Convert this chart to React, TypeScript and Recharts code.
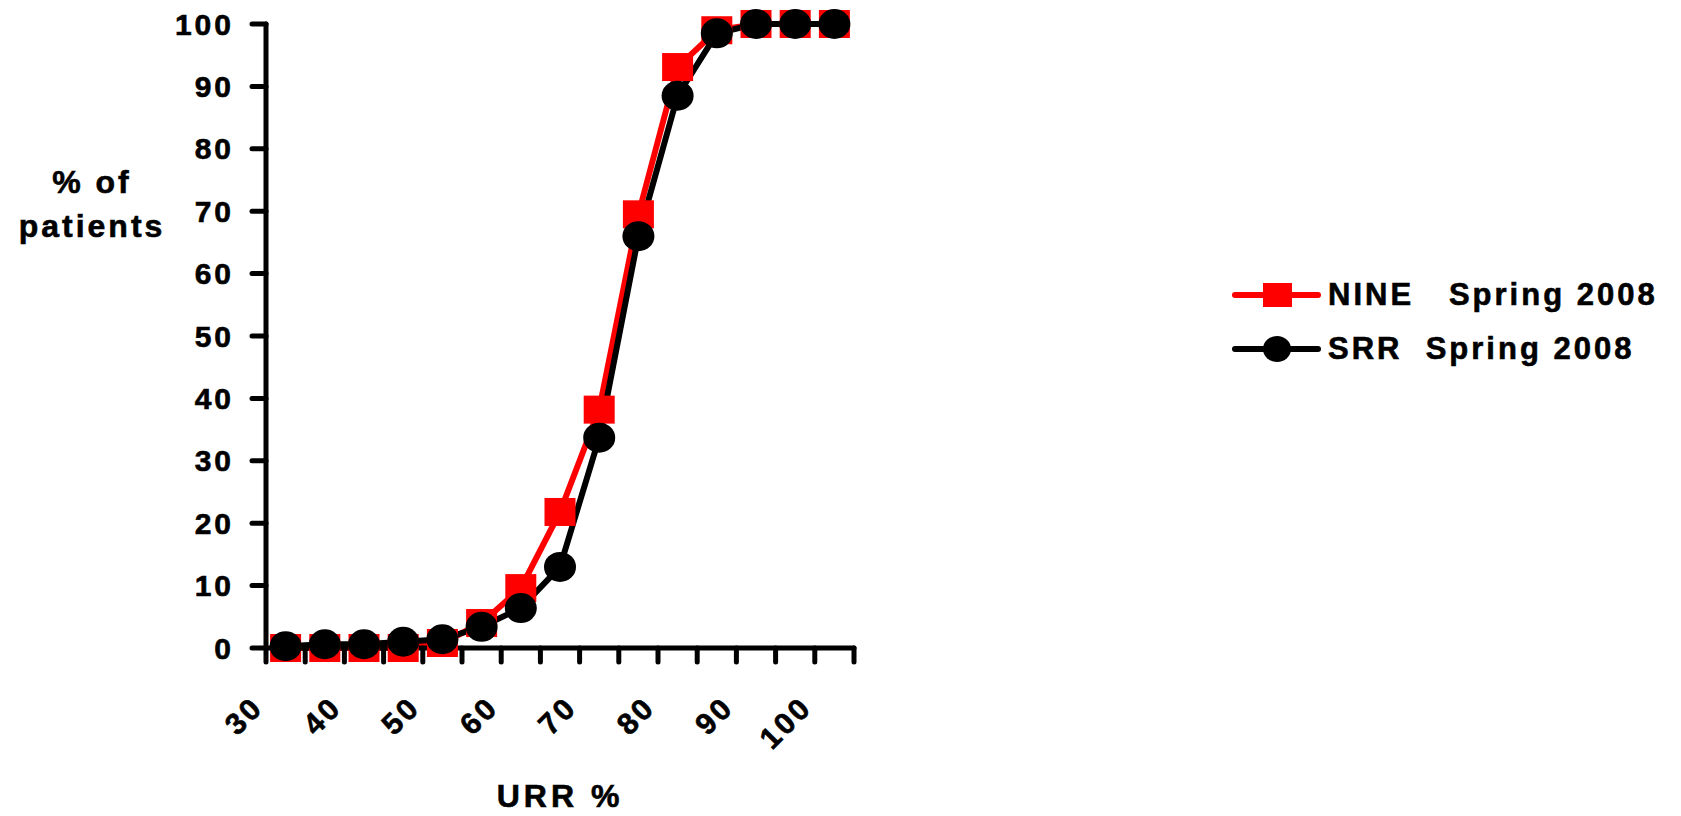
import { LineChart, Line, XAxis, YAxis, Legend } from "recharts";

// URR bins (5% wide), plotted at the bin middle
const urrBins = [32.5, 37.5, 42.5, 47.5, 52.5, 57.5, 62.5, 67.5, 72.5, 77.5, 82.5, 87.5, 92.5, 97.5, 102.5];
const nineSpring2008 = [0, 0, 0, 0, 0.8, 4, 9.6, 21.8, 38.2, 69.5, 93.1, 99, 100, 100, 100];
const srrSpring2008 = [0.3, 0.6, 0.6, 1.0, 1.4, 3.4, 6.4, 13, 33.7, 66, 88.5, 98.5, 100, 100, 100];

const xTicks = [30, 35, 40, 45, 50, 55, 60, 65, 70, 75, 80, 85, 90, 95, 100, 105];
const xTickLabels = ["30", "40", "50", "60", "70", "80", "90", "100"];
const yTicks = [0, 10, 20, 30, 40, 50, 60, 70, 80, 90, 100];

const seriesNames = ["NINE   Spring 2008", "SRR  Spring 2008"];

const data = urrBins.map((urr, i) => ({
  urr,
  nine: nineSpring2008[i],
  srr: srrSpring2008[i],
}));

const font = "'Liberation Sans', Arial, sans-serif";

const SquareDot = (props: any) => {
  const { cx, cy } = props;
  if (cx == null || cy == null) return null;
  return <rect x={cx - 15.5} y={cy - 14} width={31} height={28} fill="#ff0000" />;
};

const RoundDot = (props: any) => {
  const { cx, cy } = props;
  if (cx == null || cy == null) return null;
  return <ellipse cx={cx} cy={cy} rx={16} ry={15} fill="#000" />;
};

const XTick = ({ x, y, payload }: any) => {
  const label = String(payload.value);
  if (!xTickLabels.includes(label)) return null;
  return (
    <text
      transform={`translate(${x - 1},${y + 45}) rotate(-45)`}
      textAnchor="end"
      fontFamily={font}
      fontWeight="bold"
      fontSize={30}
      letterSpacing={3}
      fill="#000"
      stroke="#000"
      strokeWidth={0.6}
    >
      {label}
    </text>
  );
};

const LegendContent = () => (
  <div
    style={{
      fontFamily: font,
      fontWeight: "bold",
      fontSize: 31,
      letterSpacing: 3,
      WebkitTextStroke: "0.6px #000",
    }}
  >
    {seriesNames.map((name, i) => (
      <div key={name} style={{ display: "flex", alignItems: "center", height: 54 }}>
        <svg width={92} height={34} style={{ marginRight: 6 }}>
          <line x1={5} y1={17} x2={88} y2={17} stroke={i === 0 ? "#ff0000" : "#000"} strokeWidth={6} strokeLinecap="round" />
          {i === 0 ? (
            <rect x={33} y={5} width={29} height={24} fill="#ff0000" />
          ) : (
            <ellipse cx={47} cy={17} rx={14} ry={13} fill="#000" />
          )}
        </svg>
        <span style={{ whiteSpace: "pre" }}>{name}</span>
      </div>
    ))}
  </div>
);

const App = () => {
  return (
    <div style={{ position: "absolute", left: 0, top: 0, width: 1681, height: 816, background: "#fff" }}>
      <LineChart width={1681} height={816} data={data} margin={{ top: 24, right: 827, left: 0, bottom: 0 }}>
        <XAxis
          dataKey="urr"
          type="number"
          domain={[30, 105]}
          ticks={xTicks}
          interval={0}
          height={168}
          axisLine={{ stroke: "#000", strokeWidth: 5, strokeLinecap: "round" }}
          tickLine={{ stroke: "#000", strokeWidth: 5, strokeLinecap: "round" }}
          tickSize={14}
          tickMargin={2}
          tick={<XTick />}
          label={{
            content: ({ viewBox }: any) => (
              <text
                x={viewBox.x + viewBox.width / 2}
                y={807}
                textAnchor="middle"
                fontFamily={font}
                fontWeight="bold"
                fontSize={32}
                letterSpacing={4}
                stroke="#000"
                strokeWidth={0.6}
              >
                URR %
              </text>
            ),
          }}
        />
        <YAxis
          type="number"
          domain={[0, 100]}
          ticks={yTicks}
          interval={0}
          width={266}
          axisLine={{ stroke: "#000", strokeWidth: 5, strokeLinecap: "round" }}
          tickLine={{ stroke: "#000", strokeWidth: 5, strokeLinecap: "round" }}
          tickSize={14}
          tickMargin={18}
          tick={{
            fill: "#000",
            stroke: "#000",
            strokeWidth: 0.6,
            fontFamily: font,
            fontWeight: "bold",
            fontSize: 30,
            letterSpacing: 3,
          }}
          label={{
            content: () => (
              <text
                textAnchor="middle"
                fontFamily={font}
                fontWeight="bold"
                fontSize={32}
                letterSpacing={3}
                fill="#000"
                stroke="#000"
                strokeWidth={0.6}
              >
                <tspan x={92} y={193}>% of</tspan>
                <tspan x={92} y={237}>patients</tspan>
              </text>
            ),
          }}
        />
        <Legend
          layout="vertical"
          align="center"
          verticalAlign="middle"
          content={<LegendContent />}
          wrapperStyle={{ left: 1230, top: 268, width: 450 }}
        />
        <Line
          dataKey="nine"
          name={seriesNames[0]}
          stroke="#ff0000"
          strokeWidth={6}
          dot={<SquareDot />}
          activeDot={false}
          isAnimationActive={false}
        />
        <Line
          dataKey="srr"
          name={seriesNames[1]}
          stroke="#000"
          strokeWidth={6}
          dot={<RoundDot />}
          activeDot={false}
          isAnimationActive={false}
        />
      </LineChart>
    </div>
  );
};

export default App;
